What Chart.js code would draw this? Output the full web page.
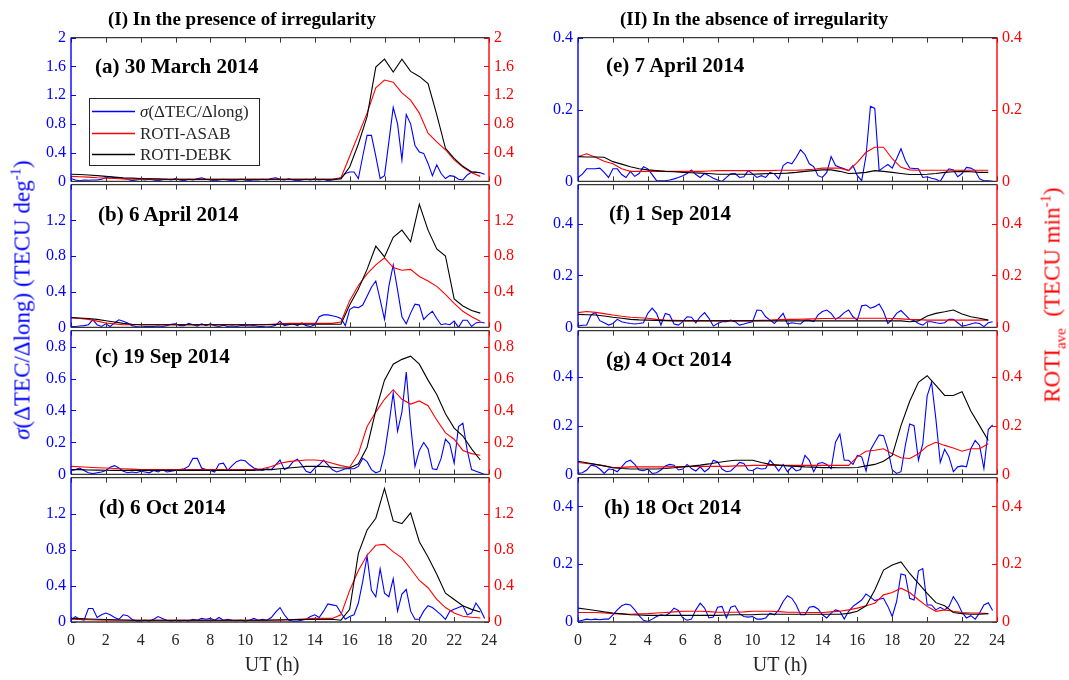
<!DOCTYPE html>
<html><head><meta charset="utf-8">
<script src="https://cdn.jsdelivr.net/npm/chart.js@4.4.1/dist/chart.umd.min.js"></script>
<style>
html,body{margin:0;padding:0;background:#fff;}
body{width:1069px;height:680px;position:relative;overflow:hidden;font-family:"Liberation Serif","Times New Roman",Times,serif;}
.t{position:absolute;white-space:nowrap;line-height:1;transform:translateY(-50%);}
.rot{position:absolute;white-space:nowrap;line-height:1;transform:translate(-50%,-50%) rotate(-90deg);}
canvas{position:absolute;}
sup,sub{font-size:65%;line-height:0;}
</style></head><body>
<script>
// ---------------- DATA ----------------
const tBlue=[0,0.25,0.5,0.75,1,1.25,1.5,1.75,2,2.25,2.5,2.75,3,3.25,3.5,3.75,4,4.25,4.5,4.75,5,5.25,5.5,5.75,
6,6.25,6.5,6.75,7,7.25,7.5,7.75,8,8.25,8.5,8.75,9,9.25,9.5,9.75,10,10.25,10.5,10.75,11,11.25,11.5,11.75,
12,12.25,12.5,12.75,13,13.25,13.5,13.75,14,14.25,14.5,14.75,15,15.25,15.5,15.75,16,16.25,16.5,16.75,17,17.25,17.5,17.75,
18,18.25,18.5,18.75,19,19.25,19.5,19.75,20,20.25,20.5,20.75,21,21.25,21.5,21.75,22,22.25,22.5,22.75,23,23.25,23.5,23.75];
const tRoti=[0,0.5,1,1.5,2,2.5,3,3.5,4,4.5,5,5.5,6,6.5,7,7.5,8,8.5,9,9.5,10,10.5,11,11.5,
12,12.5,13,13.5,14,14.5,15,15.5,16,16.5,17,17.5,18,18.5,19,19.5,20,20.5,21,21.5,22,22.5,23,23.5];

const xTicks=[0,2,4,6,8,10,12,14,16,18,20,22,24];
const yTicksA=[0,0.4,0.8,1.2,1.6,2];
const yTicksBD=[0,0.4,0.8,1.2];
const yTicksC=[0,0.2,0.4,0.6,0.8];
const yTicksR=[0,0.2,0.4];

// sigma(dTEC/dlong), 15-min
const sigA=[0.04,0.02,0.01,0.02,0.015,0.02,0.02,0.03, 0.05,0.065,0.05,0.055,0.04,0.03,0.01,0.02,
0.03,0.02,0.035,0.02,0.01,0.025,0.03,0.02, 0.04,0.02,0.01,0.03,0.02,0.035,0.05,0.03,
0.02,0.01,0.02,0.03,0.02,0.01,0.02,0.03, 0.02,0.01,0.025,0.02,0.03,0.02,0.04,0.05,
0.03,0.02,0.035,0.02,0.01,0.02,0.03,0.02, 0.035,0.02,0.03,0.01,0.02,0.03,0.05,0.11,
0.13,0.13,0.04,0.35,0.64,0.64,0.35,0.04, 0.08,0.55,1.03,0.8,0.3,0.93,0.8,0.5,
0.41,0.39,0.25,0.08,0.23,0.11,0.04,0.08, 0.07,0.03,0.02,0.09,0.13,0.13,0.12,0.1];
const sigB=[0.01,0.01,0.015,0.02,0.03,0.085,0.03,0.01, 0.04,0.01,0.05,0.085,0.07,0.05,0.02,0.01,
0.005,0.01,0.01,0.01,0.015,0.01,0.02,0.035, 0.04,0.02,0.02,0.045,0.03,0.015,0.04,0.02,
0.04,0.02,0.01,0.025,0.01,0.015,0.01,0.02, 0.02,0.015,0.02,0.01,0.01,0.005,0.01,0.025,
0.07,0.02,0.03,0.04,0.02,0.05,0.02,0.01, 0.03,0.12,0.14,0.14,0.13,0.12,0.1,0.02,
0.2,0.23,0.22,0.25,0.35,0.45,0.52,0.31, 0.09,0.46,0.7,0.42,0.12,0.04,0.16,0.26,
0.25,0.09,0.14,0.18,0.1,0.03,0.04,0.03, 0.07,0.0,0.08,0.08,0.01,0.05,0.06,0.05];
const sigC=[0.025,0.03,0.04,0.025,0.01,0.005,0.01,0.015, 0.025,0.045,0.055,0.04,0.02,0.01,0.015,0.01,
0.02,0.015,0.01,0.025,0.015,0.03,0.015,0.02, 0.025,0.03,0.035,0.05,0.1,0.1,0.04,0.03,
0.025,0.015,0.065,0.07,0.025,0.055,0.08,0.09, 0.085,0.06,0.04,0.03,0.025,0.035,0.03,0.06,
0.09,0.03,0.045,0.08,0.095,0.06,0.02,0.01, 0.04,0.06,0.09,0.06,0.03,0.015,0.025,0.035,
0.035,0.035,0.05,0.1,0.08,0.03,0.01,0.02, 0.13,0.31,0.51,0.27,0.39,0.64,0.31,0.05,
0.15,0.2,0.16,0.035,0.03,0.1,0.22,0.19, 0.07,0.3,0.32,0.15,0.03,0.02,0.01,0.0];
const sigD=[0.02,0.06,0.03,0.02,0.15,0.15,0.05,0.08, 0.1,0.08,0.05,0.03,0.08,0.07,0.03,0.01,
0.01,0.02,0.01,0.03,0.06,0.04,0.02,0.01, 0.02,0.01,0.02,0.01,0.03,0.02,0.04,0.03,
0.04,0.02,0.05,0.02,0.03,0.02,0.015,0.02, 0.01,0.02,0.04,0.02,0.03,0.02,0.05,0.11,
0.16,0.08,0.02,0.01,0.01,0.02,0.03,0.06, 0.08,0.05,0.12,0.2,0.19,0.18,0.1,0.03,
0.06,0.08,0.21,0.45,0.73,0.35,0.28,0.59, 0.32,0.28,0.48,0.12,0.31,0.36,0.12,0.03,
0.03,0.12,0.18,0.16,0.12,0.08,0.03,0.12, 0.14,0.16,0.18,0.08,0.1,0.21,0.14,0.04];
const sigE=[0.011,0.02,0.035,0.035,0.035,0.037,0.025,0.011, 0.035,0.035,0.019,0.011,0.028,0.014,0.022,0.041,
0.035,0.019,0.002,0.002,0.002,0.004,0.007,0.011, 0.016,0.022,0.032,0.019,0.011,0.022,0.016,0.009,
0.004,0,0.011,0.021,0.022,0.011,0.013,0.03, 0.021,0.011,0.016,0.011,0.025,0.021,0.007,0.044,
0.053,0.049,0.067,0.088,0.075,0.049,0.041,0.016, 0.011,0.025,0.069,0.044,0.039,0.035,0.03,0.044,
0.016,0.002,0.072,0.209,0.203,0.03,0.039,0.047, 0.037,0.063,0.091,0.058,0.037,0.036,0.035,0.011,
0.013,0.009,0.006,0,0.021,0.035,0.032,0.013, 0.022,0.039,0.037,0.03,0.007,0.002,0.002,0];
const sigF=[0.005,0.008,0.009,0.048,0.057,0.026,0.018,0.009, 0.015,0.031,0.022,0.018,0.015,0.013,0.015,0.018,
0.054,0.074,0.054,0.009,0.054,0.048,0.013,0.009, 0.022,0.041,0.039,0.018,0.041,0.057,0.035,0.005,
0.015,0.022,0.022,0.028,0.022,0.009,0.013,0.018, 0.022,0.067,0.065,0.041,0.028,0.015,0.035,0.054,
0.013,0.018,0.015,0.013,0.028,0.028,0.022,0.048, 0.061,0.067,0.054,0.031,0.041,0.057,0.067,0.041,
0.028,0.083,0.086,0.074,0.08,0.09,0.061,0.015, 0.031,0.054,0.065,0.048,0.031,0.026,0.015,0.009,
0.022,0.022,0.018,0.015,0.018,0.031,0.031,0.018, 0.005,0.008,0.013,0.018,0.015,0.003,0.018,0.022];
const sigG=[0.004,0.007,0.018,0.038,0.034,0.022,0.004,0.022, 0.02,0.011,0.031,0.051,0.058,0.041,0.018,0.015,
0.022,0.004,0.007,0.018,0.035,0.041,0.038,0.018, 0.022,0.041,0.024,0.014,0.031,0.011,0.024,0.058,
0.051,0.022,0.011,0.014,0.031,0.049,0.045,0.018, 0.015,0.027,0.022,0.024,0.058,0.038,0.014,0.041,
0.011,0.031,0.014,0.02,0.078,0.058,0.011,0.045, 0.049,0.041,0.024,0.132,0.166,0.058,0.058,0.041,
0.078,0.072,0.014,0.099,0.132,0.162,0.159,0.103, 0.018,0.004,0.011,0.119,0.207,0.2,0.058,0.126,
0.322,0.378,0.227,0.049,0.103,0.072,0.011,0.031, 0.035,0.031,0.105,0.139,0.119,0.024,0.184,0.203];
const sigH=[0.002,0.006,0.01,0.008,0.01,0.008,0.01,0.01, 0.025,0.042,0.056,0.062,0.059,0.042,0.022,0.006,
0.002,0.01,0.019,0.025,0.022,0.031,0.048,0.04, 0.014,0.006,0.01,0.042,0.065,0.048,0.014,0.017,
0.051,0.054,0.014,0.051,0.056,0.029,0.019,0.017, 0.019,0.01,0.01,0.014,0.031,0.025,0.042,0.071,
0.091,0.082,0.059,0.025,0.025,0.051,0.054,0.045, 0.025,0.014,0.031,0.042,0.037,0.01,0.037,0.054,
0.065,0.076,0.097,0.086,0.074,0.079,0.082,0.054, 0.019,0.071,0.166,0.162,0.082,0.076,0.177,0.185,
0.059,0.059,0.042,0.051,0.042,0.054,0.088,0.065, 0.033,0.014,0.022,0.01,0.031,0.059,0.067,0.04];

// ROTI-ASAB and ROTI-DEBK, 30-min
const asabA=[0.07,0.065,0.06,0.05,0.045,0.04,0.035,0.03, 0.03,0.03,0.03,0.03,0.03,0.03,0.03,0.03,
0.03,0.03,0.03,0.03,0.03,0.03,0.03,0.03, 0.03,0.03,0.03,0.03,0.03,0.03,0.03,0.05,
0.35,0.65,0.95,1.3,1.41,1.38,1.23,1.13, 0.95,0.67,0.55,0.44,0.3,0.2,0.12,0.07];
const debkA=[0.1,0.095,0.09,0.08,0.07,0.06,0.05,0.045, 0.04,0.035,0.035,0.03,0.03,0.03,0.03,0.03,
0.03,0.03,0.03,0.03,0.03,0.03,0.03,0.03, 0.03,0.03,0.03,0.03,0.03,0.03,0.03,0.035,
0.2,0.52,0.9,1.59,1.7,1.52,1.7,1.53, 1.46,1.36,0.93,0.46,0.32,0.21,0.13,0.12];
const asabB=[0.11,0.1,0.09,0.07,0.05,0.04,0.03,0.03, 0.03,0.03,0.03,0.03,0.03,0.03,0.03,0.03,
0.03,0.03,0.03,0.03,0.03,0.03,0.03,0.035, 0.04,0.045,0.045,0.045,0.045,0.045,0.045,0.06,
0.3,0.47,0.6,0.7,0.78,0.67,0.64,0.65, 0.57,0.52,0.46,0.37,0.27,0.18,0.12,0.07];
const debkB=[0.11,0.105,0.1,0.09,0.075,0.06,0.045,0.035, 0.03,0.03,0.03,0.03,0.03,0.03,0.03,0.03,
0.03,0.03,0.03,0.03,0.03,0.03,0.03,0.03, 0.035,0.035,0.035,0.035,0.035,0.035,0.035,0.035,
0.25,0.43,0.65,0.91,0.79,1.01,1.09,0.96, 1.38,1.09,0.88,0.8,0.32,0.24,0.19,0.16];
const asabC=[0.05,0.048,0.045,0.042,0.04,0.037,0.035,0.033, 0.03,0.03,0.03,0.03,0.03,0.03,0.03,0.03,
0.03,0.03,0.03,0.03,0.03,0.03,0.035,0.05, 0.07,0.08,0.085,0.09,0.09,0.085,0.07,0.055,
0.045,0.13,0.3,0.39,0.47,0.53,0.47,0.44, 0.46,0.43,0.34,0.26,0.22,0.15,0.13,0.12];
const debkC=[0.03,0.03,0.028,0.027,0.026,0.025,0.025,0.025, 0.025,0.025,0.025,0.025,0.025,0.025,0.025,0.025,
0.025,0.025,0.025,0.025,0.025,0.025,0.03,0.03, 0.035,0.04,0.045,0.05,0.05,0.05,0.045,0.04,
0.04,0.066,0.17,0.4,0.59,0.69,0.72,0.74, 0.69,0.59,0.5,0.38,0.29,0.24,0.16,0.09];
const asabD=[0.03,0.028,0.025,0.022,0.02,0.02,0.02,0.02, 0.02,0.02,0.02,0.02,0.02,0.02,0.02,0.02,
0.02,0.02,0.02,0.02,0.02,0.02,0.02,0.02, 0.02,0.025,0.03,0.035,0.04,0.04,0.04,0.08,
0.35,0.57,0.74,0.85,0.86,0.78,0.71,0.59, 0.46,0.38,0.25,0.16,0.1,0.064,0.053,0.045];
const debkD=[0.04,0.037,0.034,0.03,0.027,0.025,0.022,0.02, 0.02,0.02,0.02,0.02,0.02,0.02,0.02,0.02,
0.02,0.02,0.02,0.02,0.02,0.02,0.02,0.022, 0.025,0.025,0.027,0.027,0.028,0.028,0.03,0.02,
0.14,0.76,1.02,1.15,1.48,1.12,1.09,1.21, 0.89,0.72,0.53,0.32,0.25,0.18,0.14,0.11];
const asabE=[0.069,0.077,0.067,0.056,0.049,0.035,0.028,0.028, 0.028,0.028,0.028,0.028,0.028,0.028,0.028,0.029,
0.03,0.03,0.03,0.03,0.03,0.03,0.03,0.031, 0.031,0.031,0.032,0.034,0.037,0.037,0.037,0.03,
0.053,0.081,0.095,0.095,0.063,0.039,0.032,0.031, 0.031,0.031,0.031,0.031,0.031,0.031,0.031,0.031];
const debkE=[0.069,0.068,0.068,0.067,0.055,0.048,0.041,0.035, 0.032,0.03,0.028,0.027,0.025,0.024,0.023,0.022,
0.02,0.02,0.02,0.02,0.02,0.021,0.022,0.022, 0.023,0.025,0.028,0.03,0.032,0.032,0.028,0.022,
0.023,0.025,0.03,0.028,0.025,0.022,0.019,0.019, 0.02,0.022,0.025,0.027,0.028,0.027,0.025,0.025];
const asabF=[0.057,0.061,0.058,0.053,0.048,0.043,0.039,0.037, 0.035,0.031,0.028,0.027,0.026,0.026,0.026,0.026,
0.026,0.026,0.026,0.026,0.026,0.027,0.028,0.03, 0.031,0.031,0.032,0.033,0.034,0.034,0.035,0.035,
0.035,0.035,0.035,0.035,0.034,0.033,0.031,0.03, 0.028,0.028,0.028,0.028,0.028,0.028,0.028,0.028];
const debkF=[0.05,0.049,0.048,0.044,0.039,0.035,0.031,0.029, 0.028,0.027,0.026,0.025,0.025,0.025,0.025,0.025,
0.025,0.025,0.025,0.025,0.025,0.025,0.025,0.025, 0.025,0.025,0.025,0.025,0.025,0.025,0.025,0.025,
0.025,0.025,0.025,0.025,0.025,0.025,0.022,0.025, 0.044,0.054,0.06,0.067,0.052,0.041,0.035,0.028];
const asabG=[0.049,0.045,0.041,0.035,0.028,0.029,0.031,0.031, 0.031,0.031,0.031,0.032,0.032,0.033,0.033,0.033,
0.033,0.033,0.035,0.035,0.037,0.037,0.037,0.037, 0.037,0.037,0.037,0.037,0.037,0.037,0.037,0.037,
0.072,0.095,0.099,0.105,0.085,0.068,0.065,0.085, 0.116,0.132,0.119,0.108,0.095,0.105,0.105,0.126];
const debkG=[0.054,0.048,0.041,0.035,0.027,0.024,0.022,0.022, 0.022,0.022,0.024,0.027,0.031,0.034,0.038,0.043,
0.049,0.054,0.058,0.058,0.058,0.049,0.041,0.038, 0.035,0.033,0.031,0.03,0.028,0.028,0.027,0.027,
0.028,0.035,0.041,0.054,0.078,0.2,0.3,0.378, 0.405,0.365,0.324,0.324,0.339,0.26,0.2,0.139];
const asabH=[0.033,0.033,0.033,0.031,0.029,0.028,0.027,0.028, 0.029,0.031,0.033,0.035,0.037,0.037,0.037,0.036,
0.034,0.034,0.034,0.035,0.037,0.037,0.037,0.036, 0.034,0.034,0.033,0.033,0.033,0.035,0.037,0.042,
0.048,0.056,0.065,0.094,0.102,0.117,0.102,0.077, 0.054,0.037,0.042,0.037,0.033,0.031,0.031,0.029];
const debkH=[0.048,0.044,0.04,0.035,0.031,0.028,0.025,0.024, 0.023,0.023,0.023,0.023,0.023,0.023,0.023,0.023,
0.023,0.024,0.025,0.025,0.025,0.027,0.027,0.027, 0.027,0.027,0.027,0.027,0.027,0.027,0.027,0.03,
0.037,0.056,0.111,0.18,0.197,0.208,0.168,0.134, 0.099,0.067,0.056,0.033,0.029,0.027,0.027,0.029];

const panelLabels=['(a) 30 March 2014','(b) 6 April 2014','(c) 19 Sep 2014','(d) 6 Oct 2014',
'(e) 7 April 2014','(f) 1 Sep 2014','(g) 4 Oct 2014','(h) 18 Oct 2014'];
const seriesNames=['ROTI-DEBK','ROTI-ASAB','σ(ΔTEC/Δlong)'];

// ---------------- LAYOUT ----------------
const BLUE='#0000ff', RED='#ff0000', AX='#383838';
const FONT='"Liberation Serif","Times New Roman",Times,serif';
const COLX=[71,578], COLW=[418,419];
const ROWS=[[37,145],[184,144],[330,145],[477,145]];
const panels=[
 {c:0,r:0,max:2,   yt:yTicksA, s:sigA,a:asabA,d:debkA,lx:95, ly:66},
 {c:0,r:1,max:1.6, yt:yTicksBD,s:sigB,a:asabB,d:debkB,lx:98, ly:214},
 {c:0,r:2,max:0.9, yt:yTicksC, s:sigC,a:asabC,d:debkC,lx:95, ly:356},
 {c:0,r:3,max:1.6, yt:yTicksBD,s:sigD,a:asabD,d:debkD,lx:99, ly:507},
 {c:1,r:0,max:0.4, yt:yTicksR, s:sigE,a:asabE,d:debkE,lx:606,ly:65},
 {c:1,r:1,max:0.55,yt:yTicksR, s:sigF,a:asabF,d:debkF,lx:609,ly:213},
 {c:1,r:2,max:0.59,yt:yTicksR, s:sigG,a:asabG,d:debkG,lx:606,ly:359},
 {c:1,r:3,max:0.5, yt:yTicksR, s:sigH,a:asabH,d:debkH,lx:604,ly:507},
];

const framePlugin={
  id:'frame',
  afterDraw(chart,args,o){
    const {ctx,chartArea:a,scales}=chart;
    ctx.save();
    ctx.lineWidth=1;
    ctx.strokeStyle=AX;
    xTicks.forEach(v=>{
      const x=Math.round(scales.x.getPixelForValue(v))+0.5;
      ctx.beginPath();ctx.moveTo(x,a.bottom);ctx.lineTo(x,a.bottom-5);
      ctx.moveTo(x,a.top);ctx.lineTo(x,a.top+5);ctx.stroke();
    });
    o.yt.forEach(v=>{
      const y=Math.round(scales.y.getPixelForValue(v))+0.5;
      ctx.strokeStyle=BLUE;ctx.beginPath();ctx.moveTo(a.left,y);ctx.lineTo(a.left+5,y);ctx.stroke();
      const y2=Math.round(scales.y2.getPixelForValue(v))+0.5;
      ctx.strokeStyle=RED;ctx.beginPath();ctx.moveTo(a.right,y2);ctx.lineTo(a.right-5,y2);ctx.stroke();
    });
    ctx.lineWidth=1.4;
    ctx.strokeStyle=AX;
    ctx.beginPath();ctx.moveTo(a.left,a.top);ctx.lineTo(a.right,a.top);
    ctx.moveTo(a.left,a.bottom);ctx.lineTo(a.right,a.bottom);ctx.stroke();
    ctx.strokeStyle=BLUE;ctx.beginPath();ctx.moveTo(a.left,a.top);ctx.lineTo(a.left,a.bottom);ctx.stroke();
    ctx.strokeStyle=RED;ctx.beginPath();ctx.moveTo(a.right,a.top);ctx.lineTo(a.right,a.bottom);ctx.stroke();
    // legend (panel a only): line samples drawn on canvas
    if(o.legend){
      const L=o.legend;
      ctx.fillStyle='#ffffff';ctx.fillRect(L.x,L.y,L.w,L.h);
      ctx.lineWidth=1;ctx.strokeStyle='#262626';ctx.strokeRect(L.x+0.5,L.y+0.5,L.w-1,L.h-1);
      ctx.lineWidth=1.3;
      L.items.forEach(it=>{
        ctx.strokeStyle=it.color;ctx.beginPath();
        ctx.moveTo(L.x+3,it.y);ctx.lineTo(L.x+46,it.y);ctx.stroke();
      });
    }
    ctx.restore();
  }
};

const PL=46,PR=46,PT=14;
const LEG={x:89,y:98,w:171,h:68,rows:[111,133,154]};
panels.forEach((p,i)=>{
  const bottom=p.r===3;
  const PB=bottom?34:14;
  const px=COLX[p.c], pw=COLW[p.c], py=ROWS[p.r][0], ph=ROWS[p.r][1];
  const W=pw+PL+PR, H=ph+PT+PB;
  const ox=px-PL, oy=py-PT;
  const cv=document.createElement('canvas');
  cv.width=W;cv.height=H;
  cv.style.left=ox+'px';cv.style.top=oy+'px';
  cv.style.width=W+'px';cv.style.height=H+'px';
  document.body.appendChild(cv);
  const yScale=(pos,col,fitW)=>({
    type:'linear',position:pos,min:0,max:p.max,
    afterBuildTicks:s=>{s.ticks=p.yt.map(v=>({value:v}));},
    afterFit:s=>{s.width=fitW;},
    grid:{display:false,drawTicks:false},border:{display:false},
    ticks:{color:col,padding:5,font:{family:FONT,size:16},callback:v=>String(v)}
  });
  const legendOpt = i===0 ? {x:LEG.x-ox,y:LEG.y-oy,w:LEG.w,h:LEG.h,
      items:[{color:BLUE,y:LEG.rows[0]-oy+0.5},{color:RED,y:LEG.rows[1]-oy+0.5},{color:'#000000',y:LEG.rows[2]-oy+0.5}]} : null;
  new Chart(cv,{
    type:'line',
    data:{datasets:[
      {label:seriesNames[0],data:tRoti.map((t,k)=>({x:t,y:p.d[k]})),borderColor:'#000000',yAxisID:'y2'},
      {label:seriesNames[1],data:tRoti.map((t,k)=>({x:t,y:p.a[k]})),borderColor:RED,yAxisID:'y2'},
      {label:seriesNames[2],data:tBlue.map((t,k)=>({x:t,y:p.s[k]})),borderColor:BLUE,yAxisID:'y'}
    ]},
    options:{
      responsive:false,animation:false,maintainAspectRatio:false,
      layout:{padding:{top:PT,left:0,right:0,bottom:0}},
      elements:{line:{borderWidth:1.1,tension:0},point:{radius:0}},
      plugins:{legend:{display:false},tooltip:{enabled:false},frame:{yt:p.yt,legend:legendOpt}},
      scales:{
        x:{type:'linear',min:0,max:24,
          afterBuildTicks:s=>{s.ticks=xTicks.map(v=>({value:v}));},
          afterFit:s=>{s.height=PB;},
          grid:{display:false,drawTicks:false},border:{display:false},
          ticks:{display:bottom,color:'#262626',padding:9,maxRotation:0,autoSkip:false,
            font:{family:FONT,size:16},callback:v=>String(v)}},
        y:yScale('left',BLUE,PL),
        y2:yScale('right',RED,PR)
      }
    },
    plugins:[framePlugin]
  });
  const d=document.createElement('div');
  d.className='t';d.style.cssText=`left:${p.lx}px;top:${p.ly}px;font-size:21px;font-weight:bold;color:#000;`;
  d.textContent=panelLabels[i];
  document.body.appendChild(d);
});

function addDiv(cls,html,css){const d=document.createElement('div');d.className=cls;d.innerHTML=html;d.style.cssText=css;document.body.appendChild(d);return d;}
addDiv('t','(I) In the presence of irregularity','left:108px;top:18px;font-size:19px;font-weight:bold;color:#000;');
addDiv('t','(II) In the absence of irregularity','left:620px;top:18px;font-size:19px;font-weight:bold;color:#000;');
addDiv('t','UT (h)','left:272px;top:664px;font-size:20px;color:#262626;transform:translate(-50%,-50%);');
addDiv('t','UT (h)','left:780px;top:664px;font-size:20px;color:#262626;transform:translate(-50%,-50%);');
addDiv('rot','<i>σ</i>(ΔTEC/Δlong) (TECU deg<sup>-1</sup>)','left:22px;top:300px;font-size:23px;color:'+BLUE+';');
addDiv('rot','ROTI<sub>ave</sub> &nbsp;(TECU min<sup>-1</sup>)','left:1052px;top:295px;font-size:23px;color:'+RED+';');

// legend texts
[seriesNames[2],seriesNames[1],seriesNames[0]].forEach((name,k)=>{
  const html=k===0?'<i>σ</i>(ΔTEC/Δlong)':name;
  addDiv('t',html,`left:140px;top:${LEG.rows[k]}px;font-size:17px;color:#262626;`);
});
</script>
</body></html>
